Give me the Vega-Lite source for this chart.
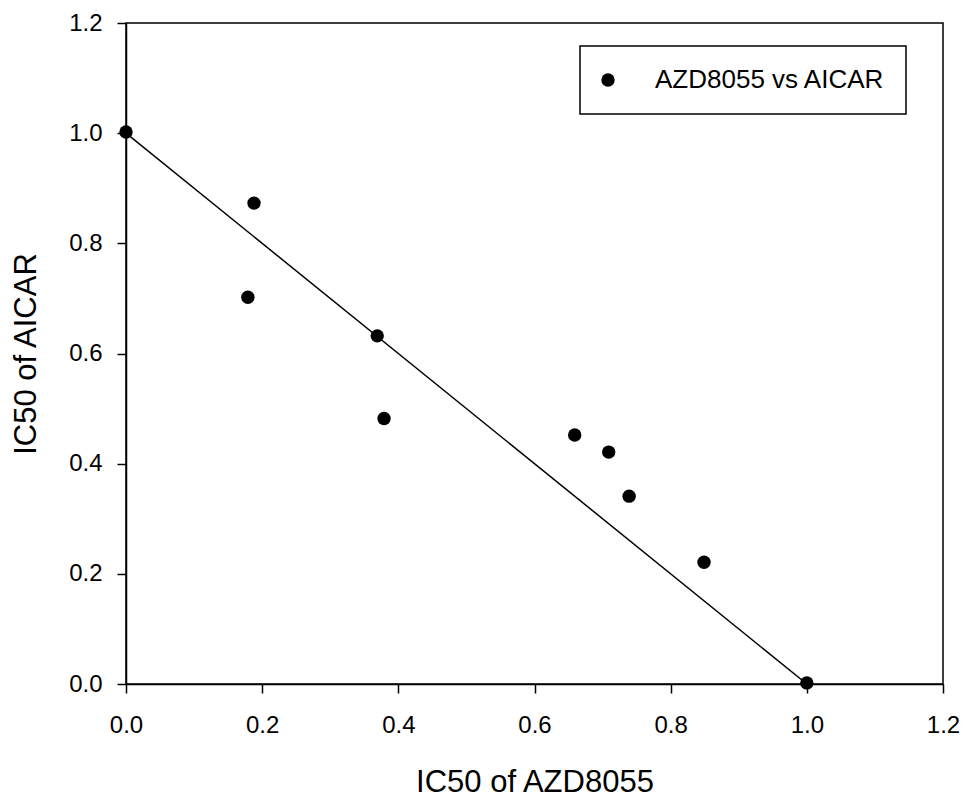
{
  "$schema": "https://vega.github.io/schema/vega-lite/v6.json",
  "width": 817,
  "height": 661,
  "autosize": {"type": "none"},
  "padding": {"left": 126, "top": 23, "right": 24, "bottom": 113},
  "background": "white",
  "config": {
    "font": "Liberation Sans",
    "view": {"stroke": "black", "strokeWidth": 1.5},
    "axis": {
      "grid": false,
      "domainColor": "black",
      "domainWidth": 1.5,
      "tickColor": "black",
      "tickWidth": 1.5,
      "tickSize": 9,
      "labelColor": "black",
      "labelFontSize": 24,
      "labelFlush": false,
      "titleColor": "black",
      "titleFontSize": 31,
      "titleFontWeight": "normal",
      "format": ".1f"
    }
  },
  "layer": [
    {
      "data": {"values": [{"x": 0, "y": 1}, {"x": 1, "y": 0}]},
      "mark": {"type": "line", "color": "black", "strokeWidth": 1.5},
      "encoding": {
        "x": {"field": "x", "type": "quantitative", "scale": {"domain": [0, 1.2], "nice": false},
              "axis": {"title": "IC50 of AZD8055", "values": [0, 0.2, 0.4, 0.6, 0.8, 1.0, 1.2], "labelPadding": 20, "titlePadding": 30}},
        "y": {"field": "y", "type": "quantitative", "scale": {"domain": [0, 1.2], "nice": false},
              "axis": {"title": "IC50 of AICAR", "values": [0, 0.2, 0.4, 0.6, 0.8, 1.0, 1.2], "labelPadding": 15, "titlePadding": 26}}
      }
    },
    {
      "data": {"values": [
        {"x": 0.0, "y": 1.002, "series": "AZD8055 vs AICAR"},
        {"x": 0.188, "y": 0.873, "series": "AZD8055 vs AICAR"},
        {"x": 0.179, "y": 0.702, "series": "AZD8055 vs AICAR"},
        {"x": 0.369, "y": 0.632, "series": "AZD8055 vs AICAR"},
        {"x": 0.379, "y": 0.482, "series": "AZD8055 vs AICAR"},
        {"x": 0.659, "y": 0.452, "series": "AZD8055 vs AICAR"},
        {"x": 0.709, "y": 0.421, "series": "AZD8055 vs AICAR"},
        {"x": 0.739, "y": 0.341, "series": "AZD8055 vs AICAR"},
        {"x": 0.849, "y": 0.221, "series": "AZD8055 vs AICAR"},
        {"x": 1.0, "y": 0.002, "series": "AZD8055 vs AICAR"}
      ]},
      "mark": {"type": "point", "filled": true, "size": 180, "opacity": 1, "shape": "circle"},
      "encoding": {
        "x": {"field": "x", "type": "quantitative"},
        "y": {"field": "y", "type": "quantitative"},
        "color": {
          "field": "series", "type": "nominal",
          "scale": {"range": ["black"]},
          "legend": {
            "title": null,
            "orient": "none",
            "legendX": 454,
            "legendY": 23,
            "padding": 21,
            "strokeColor": "black",
            "fillColor": "white",
            "labelFontSize": 26,
            "labelColor": "black",
            "labelOffset": 34,
            "symbolOffset": -6,
            "symbolSize": 180,
            "symbolType": "circle",
            "symbolStrokeWidth": 0,
            "symbolOpacity": 1,
            "labelLimit": 400,
            "encode": {"legend": {"update": {"strokeWidth": {"value": 1.5}}}}
          }
        }
      }
    }
  ]
}
